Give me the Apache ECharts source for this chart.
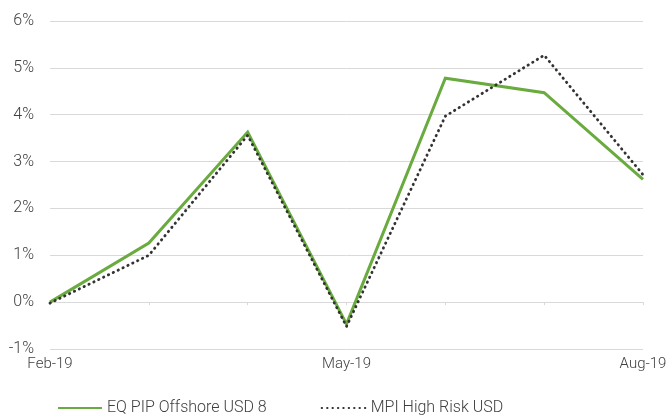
<!DOCTYPE html>
<html>
<head>
<meta charset="utf-8">
<script src="https://cdn.jsdelivr.net/npm/echarts@6/dist/echarts.min.js"></script>
<style>
  html, body { margin: 0; padding: 0; background: #fff; }
  #chart { width: 670px; height: 419px; }
</style>
</head>
<body>
<div id="chart"></div>
<script>
// Monthly returns, Feb-19 to Aug-19 (%)
const months = ['Feb-19', 'Mar-19', 'Apr-19', 'May-19', 'Jun-19', 'Jul-19', 'Aug-19'];
const eqPipOffshore = [0.0, 1.26, 3.63, -0.47, 4.78, 4.47, 2.62];
const mpiHighRisk = [-0.02, 1.0, 3.56, -0.52, 3.97, 5.27, 2.72];
const yTicks = { min: -1, max: 6, step: 1 };

const textColor = '#404040';
const font = 'Roboto';

const chart = echarts.init(document.getElementById('chart'));
chart.setOption({
  animation: false,
  grid: { left: 50, right: 27, top: 21, bottom: 70 },
  legend: {
    top: 400,
    left: 57,
    padding: 0,
    itemWidth: 44,
    itemHeight: 14,
    itemGap: 54,
    itemStyle: { opacity: 0 },
    textStyle: { color: textColor, fontFamily: font, fontWeight: 300, fontSize: 16 },
    data: ['EQ PIP Offshore USD 8', 'MPI High Risk USD']
  },
  xAxis: [
    {
      type: 'category',
      data: months,
      boundaryGap: false,
      position: 'bottom',
      axisLine: { show: false, onZero: false },
      axisTick: { show: false },
      axisLabel: {
        interval: 2,
        margin: 8,
        color: textColor,
        fontFamily: font,
        fontWeight: 300,
        fontSize: 15
      }
    },
    {
      type: 'category',
      data: months,
      boundaryGap: false,
      axisLine: { show: true, onZero: true, lineStyle: { color: '#d9d9d9', width: 1 } },
      axisTick: { show: true, inside: true, length: 3, lineStyle: { color: '#d9d9d9' } },
      axisLabel: { show: false }
    }
  ],
  yAxis: {
    type: 'value',
    min: yTicks.min,
    max: yTicks.max,
    interval: yTicks.step,
    axisLine: { show: false },
    axisTick: { show: false },
    splitLine: { lineStyle: { color: '#d9d9d9', width: 1 } },
    axisLabel: {
      margin: 16,
      color: textColor,
      fontFamily: font,
      fontWeight: 300,
      fontSize: 16,
      formatter: v => v + '%'
    }
  },
  series: [
    {
      name: 'EQ PIP Offshore USD 8',
      type: 'line',
      xAxisIndex: 0,
      data: eqPipOffshore,
      symbol: 'none',
      lineStyle: { color: '#6aab3f', width: 3, join: 'miter' },
      itemStyle: { color: '#6aab3f' },
      z: 2
    },
    {
      name: 'MPI High Risk USD',
      type: 'line',
      xAxisIndex: 0,
      data: mpiHighRisk,
      symbol: 'none',
      lineStyle: { color: '#333333', width: 2.8, type: [0.4, 5], cap: 'round' },
      itemStyle: { color: '#333333' },
      z: 3
    }
  ]
});
</script>
</body>
</html>
